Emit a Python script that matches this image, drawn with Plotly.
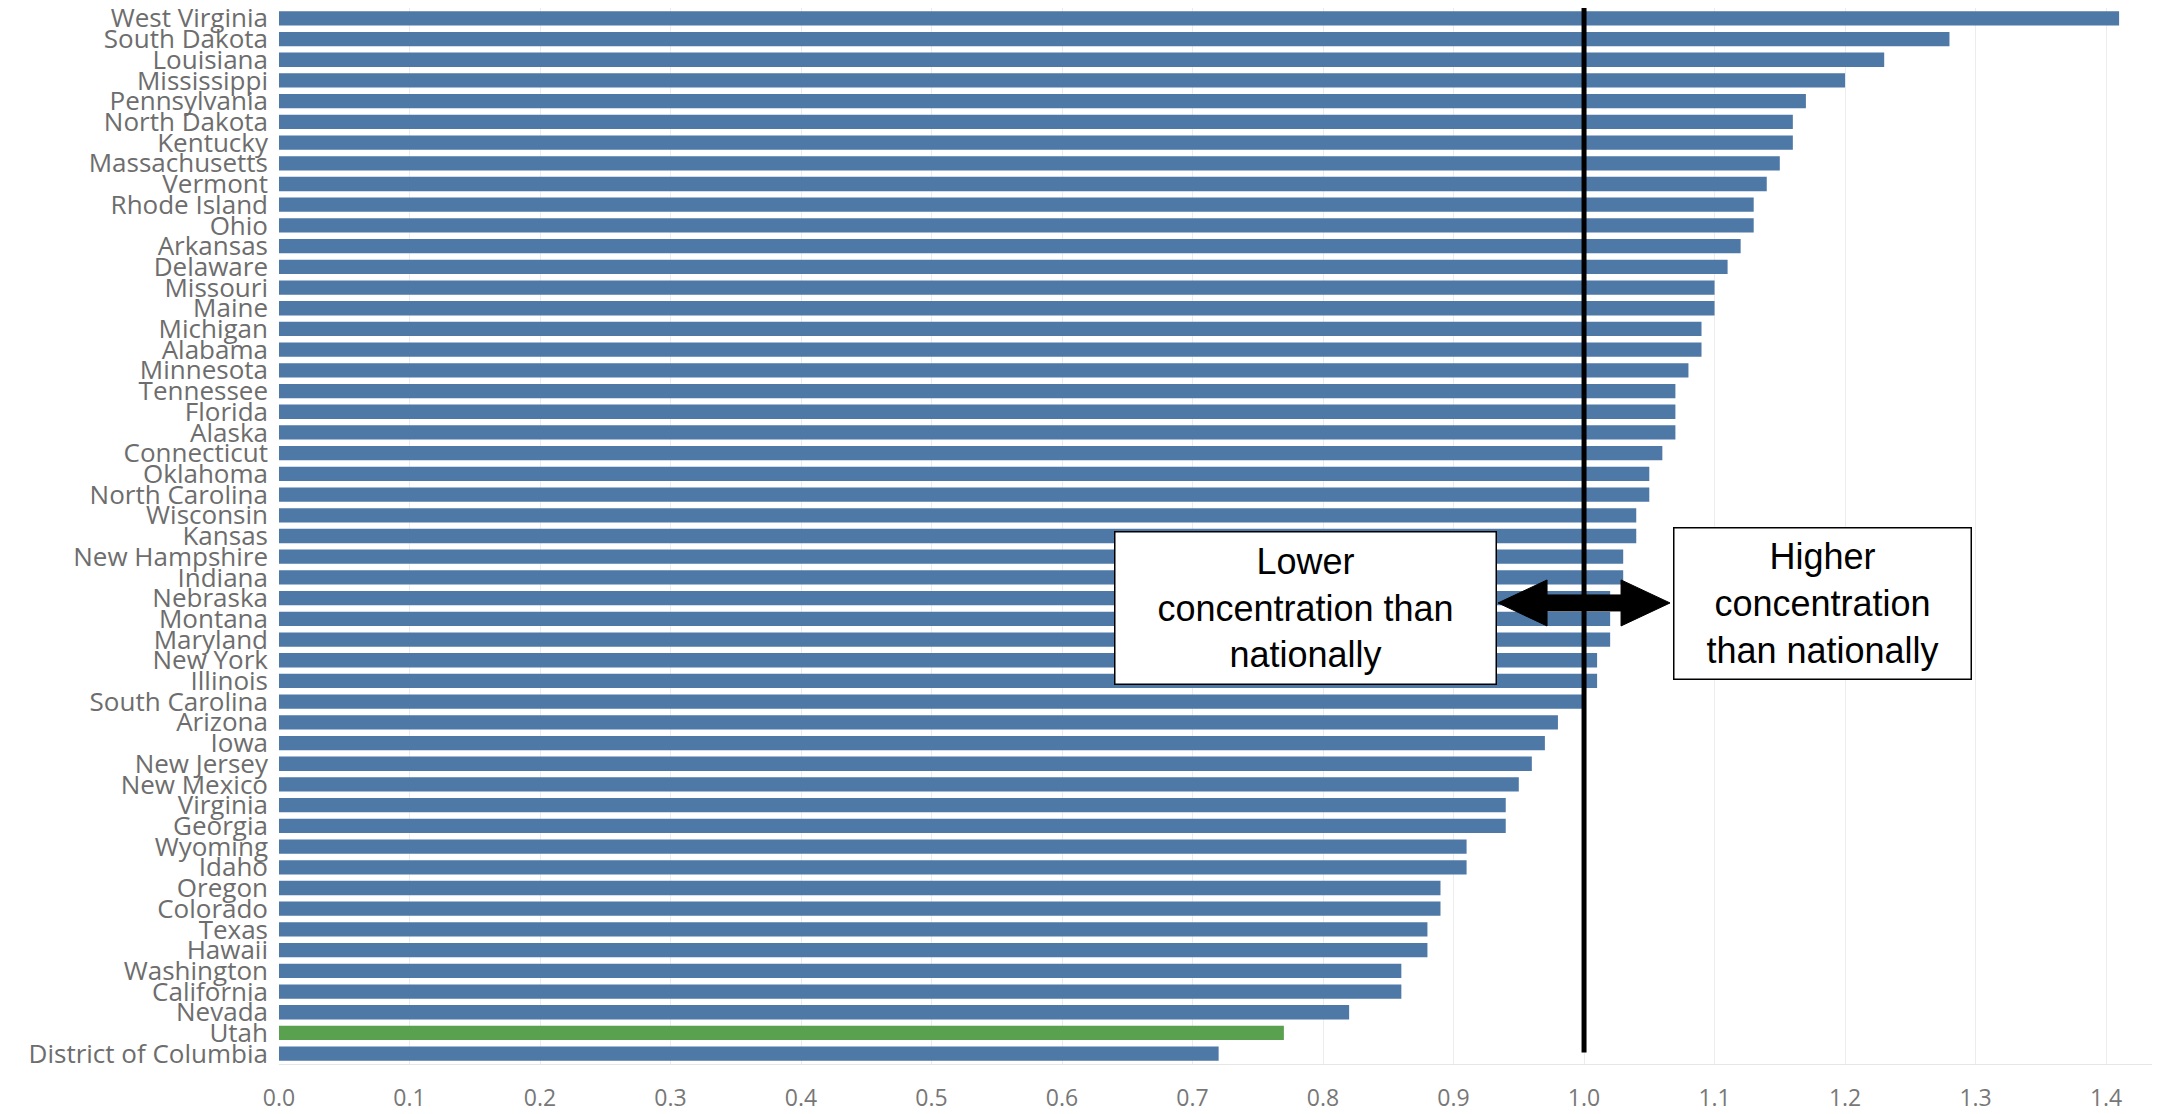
import plotly.graph_objects as go

states = ["West Virginia", "South Dakota", "Louisiana", "Mississippi", "Pennsylvania",
          "North Dakota", "Kentucky", "Massachusetts", "Vermont", "Rhode Island", "Ohio",
          "Arkansas", "Delaware", "Missouri", "Maine", "Michigan", "Alabama", "Minnesota",
          "Tennessee", "Florida", "Alaska", "Connecticut", "Oklahoma", "North Carolina",
          "Wisconsin", "Kansas", "New Hampshire", "Indiana", "Nebraska", "Montana",
          "Maryland", "New York", "Illinois", "South Carolina", "Arizona", "Iowa",
          "New Jersey", "New Mexico", "Virginia", "Georgia", "Wyoming", "Idaho", "Oregon",
          "Colorado", "Texas", "Hawaii", "Washington", "California", "Nevada", "Utah",
          "District of Columbia"]
values = [1.41, 1.28, 1.23, 1.20, 1.17,
          1.16, 1.16, 1.15, 1.14, 1.13, 1.13,
          1.12, 1.11, 1.10, 1.10, 1.09, 1.09, 1.08,
          1.07, 1.07, 1.07, 1.06, 1.05, 1.05,
          1.04, 1.04, 1.03, 1.03, 1.02, 1.02,
          1.02, 1.01, 1.01, 1.00, 0.98, 0.97,
          0.96, 0.95, 0.94, 0.94, 0.91, 0.91, 0.89,
          0.89, 0.88, 0.88, 0.86, 0.86, 0.82, 0.77,
          0.72]
highlight = "Utah"
x_ticks = [0.0, 0.1, 0.2, 0.3, 0.4, 0.5, 0.6, 0.7, 0.8, 0.9, 1.0, 1.1, 1.2, 1.3, 1.4]
national = 1.0

BLUE = "#4e79a7"
GREEN = "#59a14f"
colors = [GREEN if s == highlight else BLUE for s in states]

fig = go.Figure(go.Bar(
    x=values, y=states, orientation="h",
    marker=dict(color=colors, line=dict(width=0)),
    hoverinfo="x+y",
))

fig.update_layout(
    width=2162, height=1114,
    margin=dict(l=279, r=10, t=8, b=50, autoexpand=False),
    paper_bgcolor="white", plot_bgcolor="white",
    bargap=0.31,
    showlegend=False,
    font=dict(family="Open Sans, sans-serif", color="#6d6d6d"),
)
fig.update_xaxes(
    range=[0, 1.4352], tickmode="array", tickvals=x_ticks,
    ticktext=[f"{v:.1f}" for v in x_ticks],
    showgrid=True, gridcolor="#ececec", gridwidth=1, zeroline=False,
    showline=True, linecolor="#e6e6e6", linewidth=1,
    ticks="", tickfont=dict(size=23, color="#777777"), ticklabelstandoff=13,
    automargin=False,
)
fig.update_yaxes(
    categoryorder="array", categoryarray=states, autorange="reversed",
    tickmode="array", tickvals=states, ticktext=states,
    showgrid=False, zeroline=False, showline=False,
    ticks="", tickfont=dict(size=26, color="#6d6d6d"), ticklabelstandoff=10,
    automargin=False,
)

# national reference line
fig.add_shape(type="line", xref="x", yref="paper", x0=national, x1=national,
              y0=0.011, y1=1.0, line=dict(color="black", width=5), layer="above")

# double-headed arrow
fig.add_shape(type="path", xref="x", yref="paper",
              xsizemode="pixel", ysizemode="pixel",
              xanchor=national, yanchor=0.4366,
              path="M -86,0 L -37,23 L -37,8 L 37,8 L 37,23 L 86,0 L 37,-23 L 37,-8 L -37,-8 L -37,-23 Z",
              fillcolor="black", line=dict(color="black", width=1), layer="above")

box_font = dict(family="Liberation Sans, Arial, sans-serif", size=36, color="black")
fig.add_annotation(xref="x", yref="paper", x=0.7866, y=0.4318,
                   text="Lower<br>concentration than<br>nationally",
                   showarrow=False, font=box_font, bgcolor="white",
                   bordercolor="black", borderwidth=1.5, borderpad=0,
                   width=380, height=151, align="center", valign="middle")
fig.add_annotation(xref="x", yref="paper", x=1.1828, y=0.4361,
                   text="Higher<br>concentration<br>than nationally",
                   showarrow=False, font=box_font, bgcolor="white",
                   bordercolor="black", borderwidth=1.5, borderpad=0,
                   width=296, height=150, align="center", valign="middle")

fig.write_html("out.html", config={"displayModeBar": False},
               post_script="document.body.style.margin='0';")
